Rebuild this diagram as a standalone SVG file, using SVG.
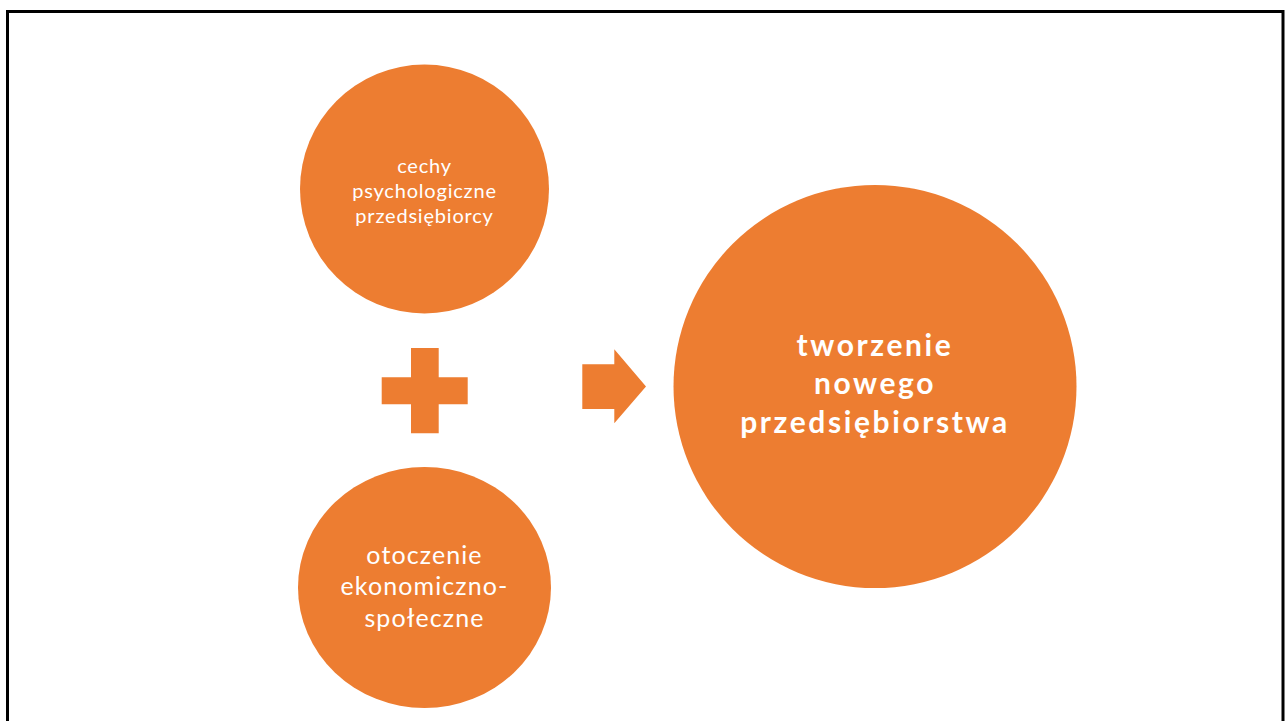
<svg xmlns="http://www.w3.org/2000/svg" width="1288" height="721" viewBox="0 0 1288 721">
<style>
.shape{fill:#ED7D31}
.t{fill:#FFFFFF;font-family:Lato,"Open Sans","Liberation Sans",sans-serif;text-anchor:middle}
.s{font-size:20px;letter-spacing:0.8px}
.m{font-size:25px;letter-spacing:1.1px}
.b{font-size:30px;font-weight:bold;letter-spacing:2.6px}
</style>
<rect x="0" y="0" width="1288" height="721" fill="#FFFFFF"/>
<path d="M7.5 730 V11.5 H1283 V730" fill="none" stroke="#000000" stroke-width="3"/>
<g id="node-cechy">
<circle class="shape" cx="424.5" cy="189" r="124.5"/>
<text class="t s" x="424.5" y="173">cechy</text>
<text class="t s" x="424.5" y="198">psychologiczne</text>
<text class="t s" x="424.5" y="223">przedsiębiorcy</text>
</g>
<g id="node-otoczenie">
<ellipse class="shape" cx="424.5" cy="587.5" rx="126.5" ry="120.5"/>
<text class="t m" x="424.5" y="564">otoczenie</text>
<text class="t m" x="424.5" y="595">ekonomiczno-</text>
<text class="t m" x="424.5" y="627">społeczne</text>
</g>
<g id="node-tworzenie">
<circle class="shape" cx="875" cy="386.5" r="201.5"/>
<text class="t b" x="875" y="356">tworzenie</text>
<text class="t b" x="875" y="394">nowego</text>
<text class="t b" x="875" y="433">przedsiębiorstwa</text>
</g>
<g id="connectors">
<path id="plus" class="shape" d="M411 348 H438.7 V377.3 H467.7 V404.3 H438.7 V433.3 H411 V404.3 H381.7 V377.3 H411 Z"/>
<path id="arrow" class="shape" d="M582.3 364.3 H614.3 V349.3 L646 386.5 L614.3 423.3 V409 H582.3 Z"/>
</g>
</svg>
